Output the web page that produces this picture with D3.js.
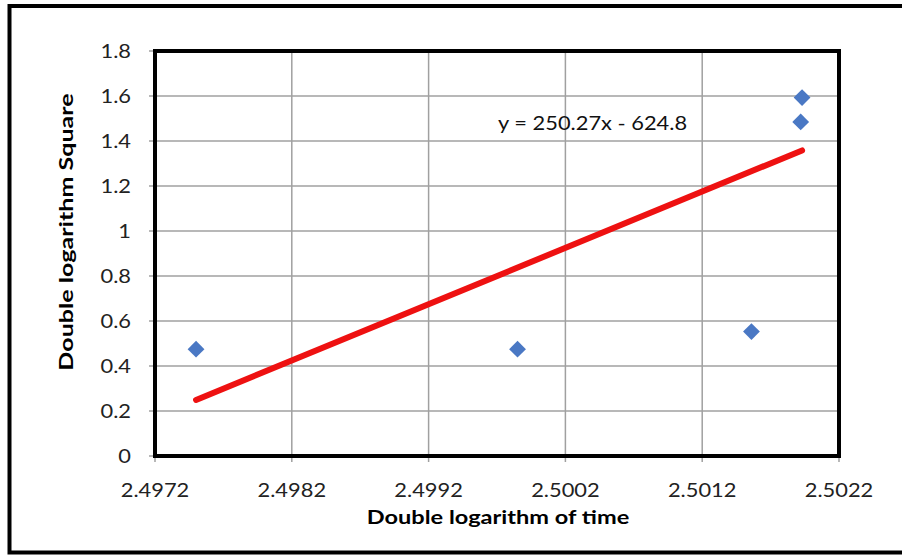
<!DOCTYPE html>
<html>
<head>
<meta charset="utf-8">
<script src="https://cdn.jsdelivr.net/npm/d3@7"></script>
<style>
  body { margin: 0; background: #fff; }
  svg { display: block; font-family: Lato, "Open Sans", sans-serif; }
</style>
</head>
<body>
<svg width="902" height="555"></svg>
<script>
// data
var timeLog = [2.49750, 2.49985, 2.50156, 2.50193, 2.50192];
var squareLog = [0.475, 0.475, 0.553, 1.593, 1.485];
var xTicks = [2.4972, 2.4982, 2.4992, 2.5002, 2.5012, 2.5022];
var yTicks = [0, 0.2, 0.4, 0.6, 0.8, 1, 1.2, 1.4, 1.6, 1.8];
var trendSlope = 250.27,
    trendIntercept = -624.8;

var svg = d3.select("svg"),
    plotL = 155, plotR = 839, plotT = 51, plotB = 456,
    sx = 1.15,      // text in the original is wider than Lato
    sxTitle = 1.24;

var x = d3.scaleLinear().domain([2.4972, 2.5022]).range([plotL, plotR]),
    y = d3.scaleLinear().domain([0, 1.8]).range([plotB, plotT]);

// outer frame
svg.append("rect").attr("x", 9.5).attr("y", 6).attr("width", 900).attr("height", 546.5)
    .attr("fill", "none").attr("stroke", "#000").attr("stroke-width", 4);

// grid
svg.append("g").selectAll("line").data(xTicks.slice(1)).join("line")
    .attr("x1", x).attr("x2", x).attr("y1", plotT).attr("y2", plotB + 6)
    .attr("stroke", "#a0a0a0").attr("stroke-width", 1.5);
svg.append("line").attr("x1", x(xTicks[0])).attr("x2", x(xTicks[0]))
    .attr("y1", plotB).attr("y2", plotB + 6).attr("stroke", "#a0a0a0").attr("stroke-width", 1.5);
svg.append("g").selectAll("line").data(yTicks).join("line")
    .attr("x1", plotL - 6).attr("x2", plotR).attr("y1", y).attr("y2", y)
    .attr("stroke", "#a0a0a0").attr("stroke-width", 1.5);

// plot frame
svg.append("rect").attr("x", plotL).attr("y", plotT).attr("width", plotR - plotL).attr("height", plotB - plotT)
    .attr("fill", "none").attr("stroke", "#000").attr("stroke-width", 4);

// tick labels
svg.append("g").selectAll("text").data(yTicks).join("text")
    .attr("transform", function(d) { return "translate(131," + y(d) + ") scale(" + sx + ",1)"; })
    .attr("dy", "0.36em").attr("text-anchor", "end")
    .attr("font-size", 19).attr("fill", "#222")
    .text(function(d) { return d; });

svg.append("g").selectAll("text").data(xTicks).join("text")
    .attr("transform", function(d) { return "translate(" + x(d) + ",497) scale(" + sx + ",1)"; })
    .attr("text-anchor", "middle")
    .attr("font-size", 19).attr("fill", "#222")
    .text(function(d) { return d.toFixed(4); });

// axis titles
svg.append("text")
    .attr("transform", "translate(498,524) scale(" + sxTitle + ",1)")
    .attr("text-anchor", "middle").attr("font-size", 19).attr("font-weight", "bold")
    .text("Double logarithm of time");
svg.append("text")
    .attr("transform", "translate(73,232) rotate(-90) scale(1.32,1)")
    .attr("text-anchor", "middle").attr("font-size", 19).attr("font-weight", "bold")
    .text("Double logarithm Square");

// trendline
var xExt = d3.extent(timeLog);
svg.append("line")
    .attr("x1", x(xExt[0])).attr("y1", y(trendSlope * xExt[0] + trendIntercept))
    .attr("x2", x(xExt[1])).attr("y2", y(trendSlope * xExt[1] + trendIntercept))
    .attr("stroke", "#ee1111").attr("stroke-width", 6).attr("stroke-linecap", "round");

svg.append("text")
    .attr("transform", "translate(498,129.5) scale(" + sx + ",1)")
    .attr("font-size", 19).attr("fill", "#111")
    .text("y = " + trendSlope + "x - " + Math.abs(trendIntercept));

// markers
var diamond = d3.symbol().type(d3.symbolDiamond2).size(180);
svg.append("g").selectAll("path").data(timeLog).join("path")
    .attr("transform", function(d, i) { return "translate(" + x(d) + "," + y(squareLog[i]) + ")"; })
    .attr("d", diamond)
    .attr("fill", "#4a78c4");
</script>
</body>
</html>
